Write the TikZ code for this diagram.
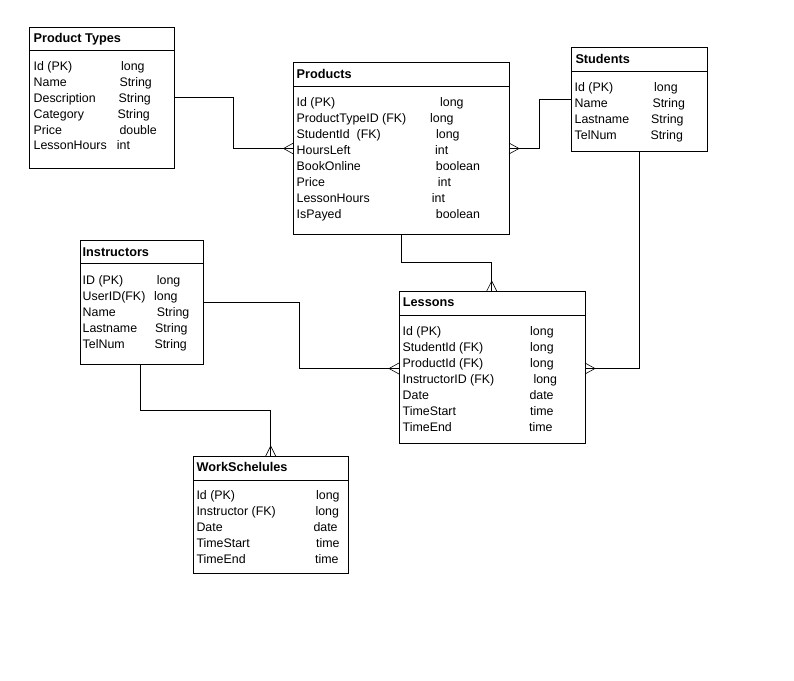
\documentclass[tikz,border=0pt]{standalone}
\usepackage{fontspec}
\setmainfont{Liberation Sans}
\usetikzlibrary{calc}
\begin{document}
\begin{tikzpicture}[x=1pt,y=-1pt,
  tbl/.style={draw, line width=1pt, anchor=north west, inner sep=0pt, outer sep=0pt},
  hdr/.style={anchor=base west, font=\fontsize{12.7}{14}\selectfont\bfseries, inner sep=0pt},
  fld/.style={anchor=base west, font=\fontsize{12.4}{14}\selectfont, inner sep=0pt},
  sepline/.style={line width=1pt},
  link/.style={line width=1pt},
  crow/.style={line width=0.6pt}]
\useasboundingbox[fill=white] (0,0) rectangle (794,680);

% ---------- Product Types ----------
\node[tbl, minimum width=144.5pt, minimum height=141pt] (pt) at (29.5,27) {};
\draw[sepline] (pt.west |- 0,50) -- (pt.east |- 0,50);
\node[hdr] (pt-t) at (33.5,42.6) {Product Types};
\foreach \f/\t/\tx [count=\i] in {Id (PK)/long/121, Name/String/119.3,
    Description/String/118.3, Category/String/117.3, Price/double/119.3,
    LessonHours/int/116.7}
  {\node[fld] (pt-f\i) at (33.5,{70.8+15.8*(\i-1)}) {\f};
   \node[fld] (pt-v\i) at (\tx,{70.8+15.8*(\i-1)}) {\t};}

% ---------- Products ----------
\node[tbl, minimum width=215.5pt, minimum height=171.5pt] (pr) at (293.5,62.5) {};
\draw[sepline] (pr.west |- 0,86) -- (pr.east |- 0,86);
\node[hdr] (pr-t) at (296.5,78.3) {Products};
\foreach \f/\t/\tx [count=\i] in {Id (PK)/long/440, ProductTypeID (FK)/long/430,
    StudentId~ (FK)/long/436, HoursLeft/int/435, BookOnline/boolean/435.7,
    Price/int/437.7, LessonHours/int/431.7, IsPayed/boolean/435.7}
  {\node[fld] (pr-f\i) at (296.5,{106+16*(\i-1)}) {\f};
   \node[fld] (pr-v\i) at (\tx,{106+16*(\i-1)}) {\t};}

% ---------- Students ----------
\node[tbl, minimum width=136pt, minimum height=103.5pt] (st) at (571.5,47.5) {};
\draw[sepline] (st.west |- 0,71) -- (st.east |- 0,71);
\node[hdr] (st-t) at (575.3,63.3) {Students};
\foreach \f/\t/\tx [count=\i] in {Id (PK)/long/654, Name/String/652.3,
    Lastname/String/651, TelNum/String/650.3}
  {\node[fld] (st-f\i) at (574.5,{91+16*(\i-1)}) {\f};
   \node[fld] (st-v\i) at (\tx,{91+16*(\i-1)}) {\t};}

% ---------- Instructors ----------
\node[tbl, minimum width=123pt, minimum height=124pt] (in) at (80,240.5) {};
\draw[sepline] (in.west |- 0,263) -- (in.east |- 0,263);
\node[hdr] (in-t) at (82.5,256.3) {Instructors};
\foreach \f/\t/\tx [count=\i] in {ID (PK)/long/156.7, UserID(FK)/long/154,
    Name/String/156.7, Lastname/String/155, TelNum/String/154.3}
  {\node[fld] (in-f\i) at (82.5,{284.5+16*(\i-1)}) {\f};
   \node[fld] (in-v\i) at (\tx,{284.5+16*(\i-1)}) {\t};}

% ---------- Lessons ----------
\node[tbl, minimum width=186pt, minimum height=152.5pt] (le) at (399,291) {};
\draw[sepline] (le.west |- 0,315) -- (le.east |- 0,315);
\node[hdr] (le-t) at (402.7,306.6) {Lessons};
\foreach \f/\t/\tx [count=\i] in {Id (PK)/long/530, StudentId (FK)/long/530,
    ProductId (FK)/long/530, InstructorID (FK)/long/533.3, Date/date/529.3,
    TimeStart/time/530, TimeEnd/time/529}
  {\node[fld] (le-f\i) at (402.5,{335.3+16*(\i-1)}) {\f};
   \node[fld] (le-v\i) at (\tx,{335.3+16*(\i-1)}) {\t};}

% ---------- WorkSchelules ----------
\node[tbl, minimum width=155pt, minimum height=117pt] (ws) at (193.5,456) {};
\draw[sepline] (ws.west |- 0,480) -- (ws.east |- 0,480);
\node[hdr] (ws-t) at (196.5,471) {WorkSchelules};
\foreach \f/\t/\tx [count=\i] in {Id (PK)/long/316, Instructor (FK)/long/315.3,
    Date/date/313.3, TimeStart/time/316, TimeEnd/time/315}
  {\node[fld] (ws-f\i) at (196.3,{499.3+16*(\i-1)}) {\f};
   \node[fld] (ws-v\i) at (\tx,{499.3+16*(\i-1)}) {\t};}

% ---------- relationships (crow's foot on the "many" side) ----------
% Product Types -> Products
\coordinate (e1) at (pr.west |- 0,148.5);
\draw[link] (pt.east |- 0,97) -- (233.5,97) |- (e1);
\draw[crow] ($(e1)+(-10,0)$) -- ($(e1)+(0,-5.5)$) ($(e1)+(-10,0)$) -- ($(e1)+(0,5.5)$);

% Students -> Products
\coordinate (e2) at (pr.east |- 0,148.5);
\draw[link] (st.west |- 0,99.3) -- (539.5,99.3) |- (e2);
\draw[crow] ($(e2)+(10,0)$) -- ($(e2)+(0,-5.5)$) ($(e2)+(10,0)$) -- ($(e2)+(0,5.5)$);

% Students -> Lessons
\coordinate (e3) at (le.east |- 0,368.5);
\draw[link] (st.south -| 639.5,0) |- (e3);
\draw[crow] ($(e3)+(10,0)$) -- ($(e3)+(0,-5.5)$) ($(e3)+(10,0)$) -- ($(e3)+(0,5.5)$);

% Products -> Lessons
\coordinate (e4) at (le.north -| 491.7,0);
\draw[link] (pr.south -| 401.7,0) -- (401.7,262.3) -| (e4);
\draw[crow] ($(e4)+(0,-10)$) -- ($(e4)+(-5,0)$) ($(e4)+(0,-10)$) -- ($(e4)+(5,0)$);

% Instructors -> Lessons
\coordinate (e5) at (le.west |- 0,368.5);
\draw[link] (in.east |- 0,302.3) -- (299.5,302.3) |- (e5);
\draw[crow] ($(e5)+(-10,0)$) -- ($(e5)+(0,-5.5)$) ($(e5)+(-10,0)$) -- ($(e5)+(0,5.5)$);

% Instructors -> WorkSchelules
\coordinate (e6) at (ws.north -| 270.7,0);
\draw[link] (in.south -| 140.7,0) -- (140.7,410) -| (e6);
\draw[crow] ($(e6)+(0,-10)$) -- ($(e6)+(-5,0)$) ($(e6)+(0,-10)$) -- ($(e6)+(5,0)$);
\end{tikzpicture}
\end{document}
